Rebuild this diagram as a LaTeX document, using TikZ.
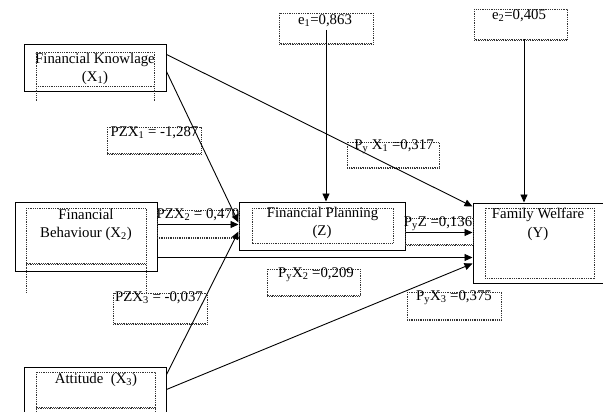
\documentclass[tikz,border=0pt]{standalone}
\usepackage{fontspec}
\setmainfont{Liberation Serif}
\usetikzlibrary{arrows.meta,calc}
\newcommand\lblbox[4]{\draw[dotbox] (#1,#2) rectangle (#3,#4); \draw[dotbox] (#1,#4+1.5) -- (#3,#4+1.5);}
\begin{document}
\begin{tikzpicture}[x=1pt,y=-1pt,
  solidbox/.style={draw, line width=1pt, inner sep=0pt},
  dotbox/.style={draw, line width=0.8pt, dash pattern=on 0.9pt off 0.9pt, black!80},
  lbl/.style={font=\fontsize{14.8}{17}\selectfont, anchor=mid, inner sep=0pt},
  arr/.style={-{Triangle[length=8pt,width=7pt]}, line width=0.9pt}]
\useasboundingbox (0,0) rectangle (603,412);
\clip (0,0) rectangle (603,412);

% main boxes
\node[solidbox, minimum width=142pt, minimum height=47pt] (fk) at (95,68.5) {};
\node[solidbox, minimum width=142pt, minimum height=69pt] (fb) at (86,236.5) {};
\node[solidbox, minimum width=142pt, minimum height=60pt] (att) at (95,397) {};
\node[solidbox, minimum width=166pt, minimum height=48pt] (fp) at (322,226) {};
\node[solidbox, minimum width=134pt, minimum height=80pt] (fw) at (540,243) {};

% inner dotted frames
\draw[dotbox] (36,52) rectangle (154,86); \draw[dotbox] (36,86) -- (36,101); \draw[dotbox] (154,86) -- (154,101);
\draw[dotbox] (26,208) rectangle (146,263); \draw[dotbox] (26,264.5) -- (146,264.5);
\draw[dotbox] (26,263) -- (26,293); \draw[dotbox] (146,263) -- (146,293);
\draw[dotbox] (36,372) rectangle (155,407); \draw[dotbox] (36,408.5) -- (155,408.5);
\draw[dotbox] (36,407) -- (36,415); \draw[dotbox] (155,407) -- (155,415);
\draw[dotbox] (252,208) rectangle (393,243);
\draw[dotbox] (485,208) rectangle (594,278);

% label boxes
\lblbox{279}{13}{373}{43}
\lblbox{474}{9}{567}{39}
\lblbox{107}{127}{201}{153}
\lblbox{157}{210}{239}{237}
\lblbox{113}{293}{207}{323}
\lblbox{347}{142}{439}{167}
\lblbox{405}{218}{473}{244}
\lblbox{267}{269}{360}{295}
\lblbox{407}{292}{501}{319}

\node[inner sep=0pt, minimum width=94pt, minimum height=30pt] (e1) at (326,28) {};
\node[inner sep=0pt, minimum width=93pt, minimum height=30pt] (e2) at (520.5,24) {};

% texts
\node[lbl] (tfk1) at (95,61) {Financial Knowlage};
\node[lbl] (tfk2) at (95,79) {(X\textsubscript{1})};
\node[lbl] (tfb1) at (86,217) {Financial};
\node[lbl] (tfb2) at (86,235) {Behaviour (X\textsubscript{2})};
\node[lbl] (tatt) at (96,381) {Attitude\ \ (X\textsubscript{3})};
\node[lbl] (tfp1) at (322.5,215) {Financial Planning};
\node[lbl] (tfp2) at (322,233) {(Z)};
\node[lbl] (tfw1) at (538,216) {Family Welfare};
\node[lbl] (tfw2) at (538,235) {(Y)};
\node[lbl] (te1) at (325,22) {e\textsubscript{1}=0,863};
\node[lbl] (te2) at (519,17) {e\textsubscript{2}=0,405};
\node[lbl] (tp1) at (154.5,134) {PZX\textsubscript{1} = -1,287};
\node[lbl] (tp2) at (198,216) {PZX\textsubscript{2} = 0,470};
\node[lbl] (tp3) at (159,299) {PZX\textsubscript{3} = -0,037};
\node[lbl] (tq1) at (394,147) {P\textsubscript{y} X\textsubscript{1} =0,317};
\node[lbl] (tqz) at (438,224) {P\textsubscript{y}Z =0,136};
\node[lbl] (tq2) at (316,275) {P\textsubscript{y}X\textsubscript{2} =0,209};
\node[lbl] (tq3) at (454,298) {P\textsubscript{y}X\textsubscript{3} =0,375};

% connectors
\draw[arr] ([yshift=-10pt]fk.north east) -- ([yshift=-4pt]fw.north west);
\draw[arr] ([yshift=-27pt]fk.north east) -- ([yshift=-21pt]fp.north west);
\draw[arr] ([yshift=-23pt]fb.north east) -- ([yshift=-23pt]fp.north west);
\draw[arr] ([yshift=-56pt]fb.north east) -- ([yshift=-55pt]fw.north west);
\draw[arr] ([yshift=-8pt]att.north east) -- ([yshift=-30pt]fp.north west);
\draw[arr] ([yshift=-23pt]att.north east) -- ([yshift=-61pt]fw.north west);
\draw[arr] ([yshift=-31pt]fp.north east) -- ([yshift=-30pt]fw.north west);
\path ([yshift=-2pt]e1.center) coordinate (e1s);
\draw[arr] (e1s) -- (e1s |- fp.north);
\path ([xshift=3.5pt]e2.south) coordinate (e2s);
\draw[arr] (e2s) -- (e2s |- fw.north);
\end{tikzpicture}
\end{document}
